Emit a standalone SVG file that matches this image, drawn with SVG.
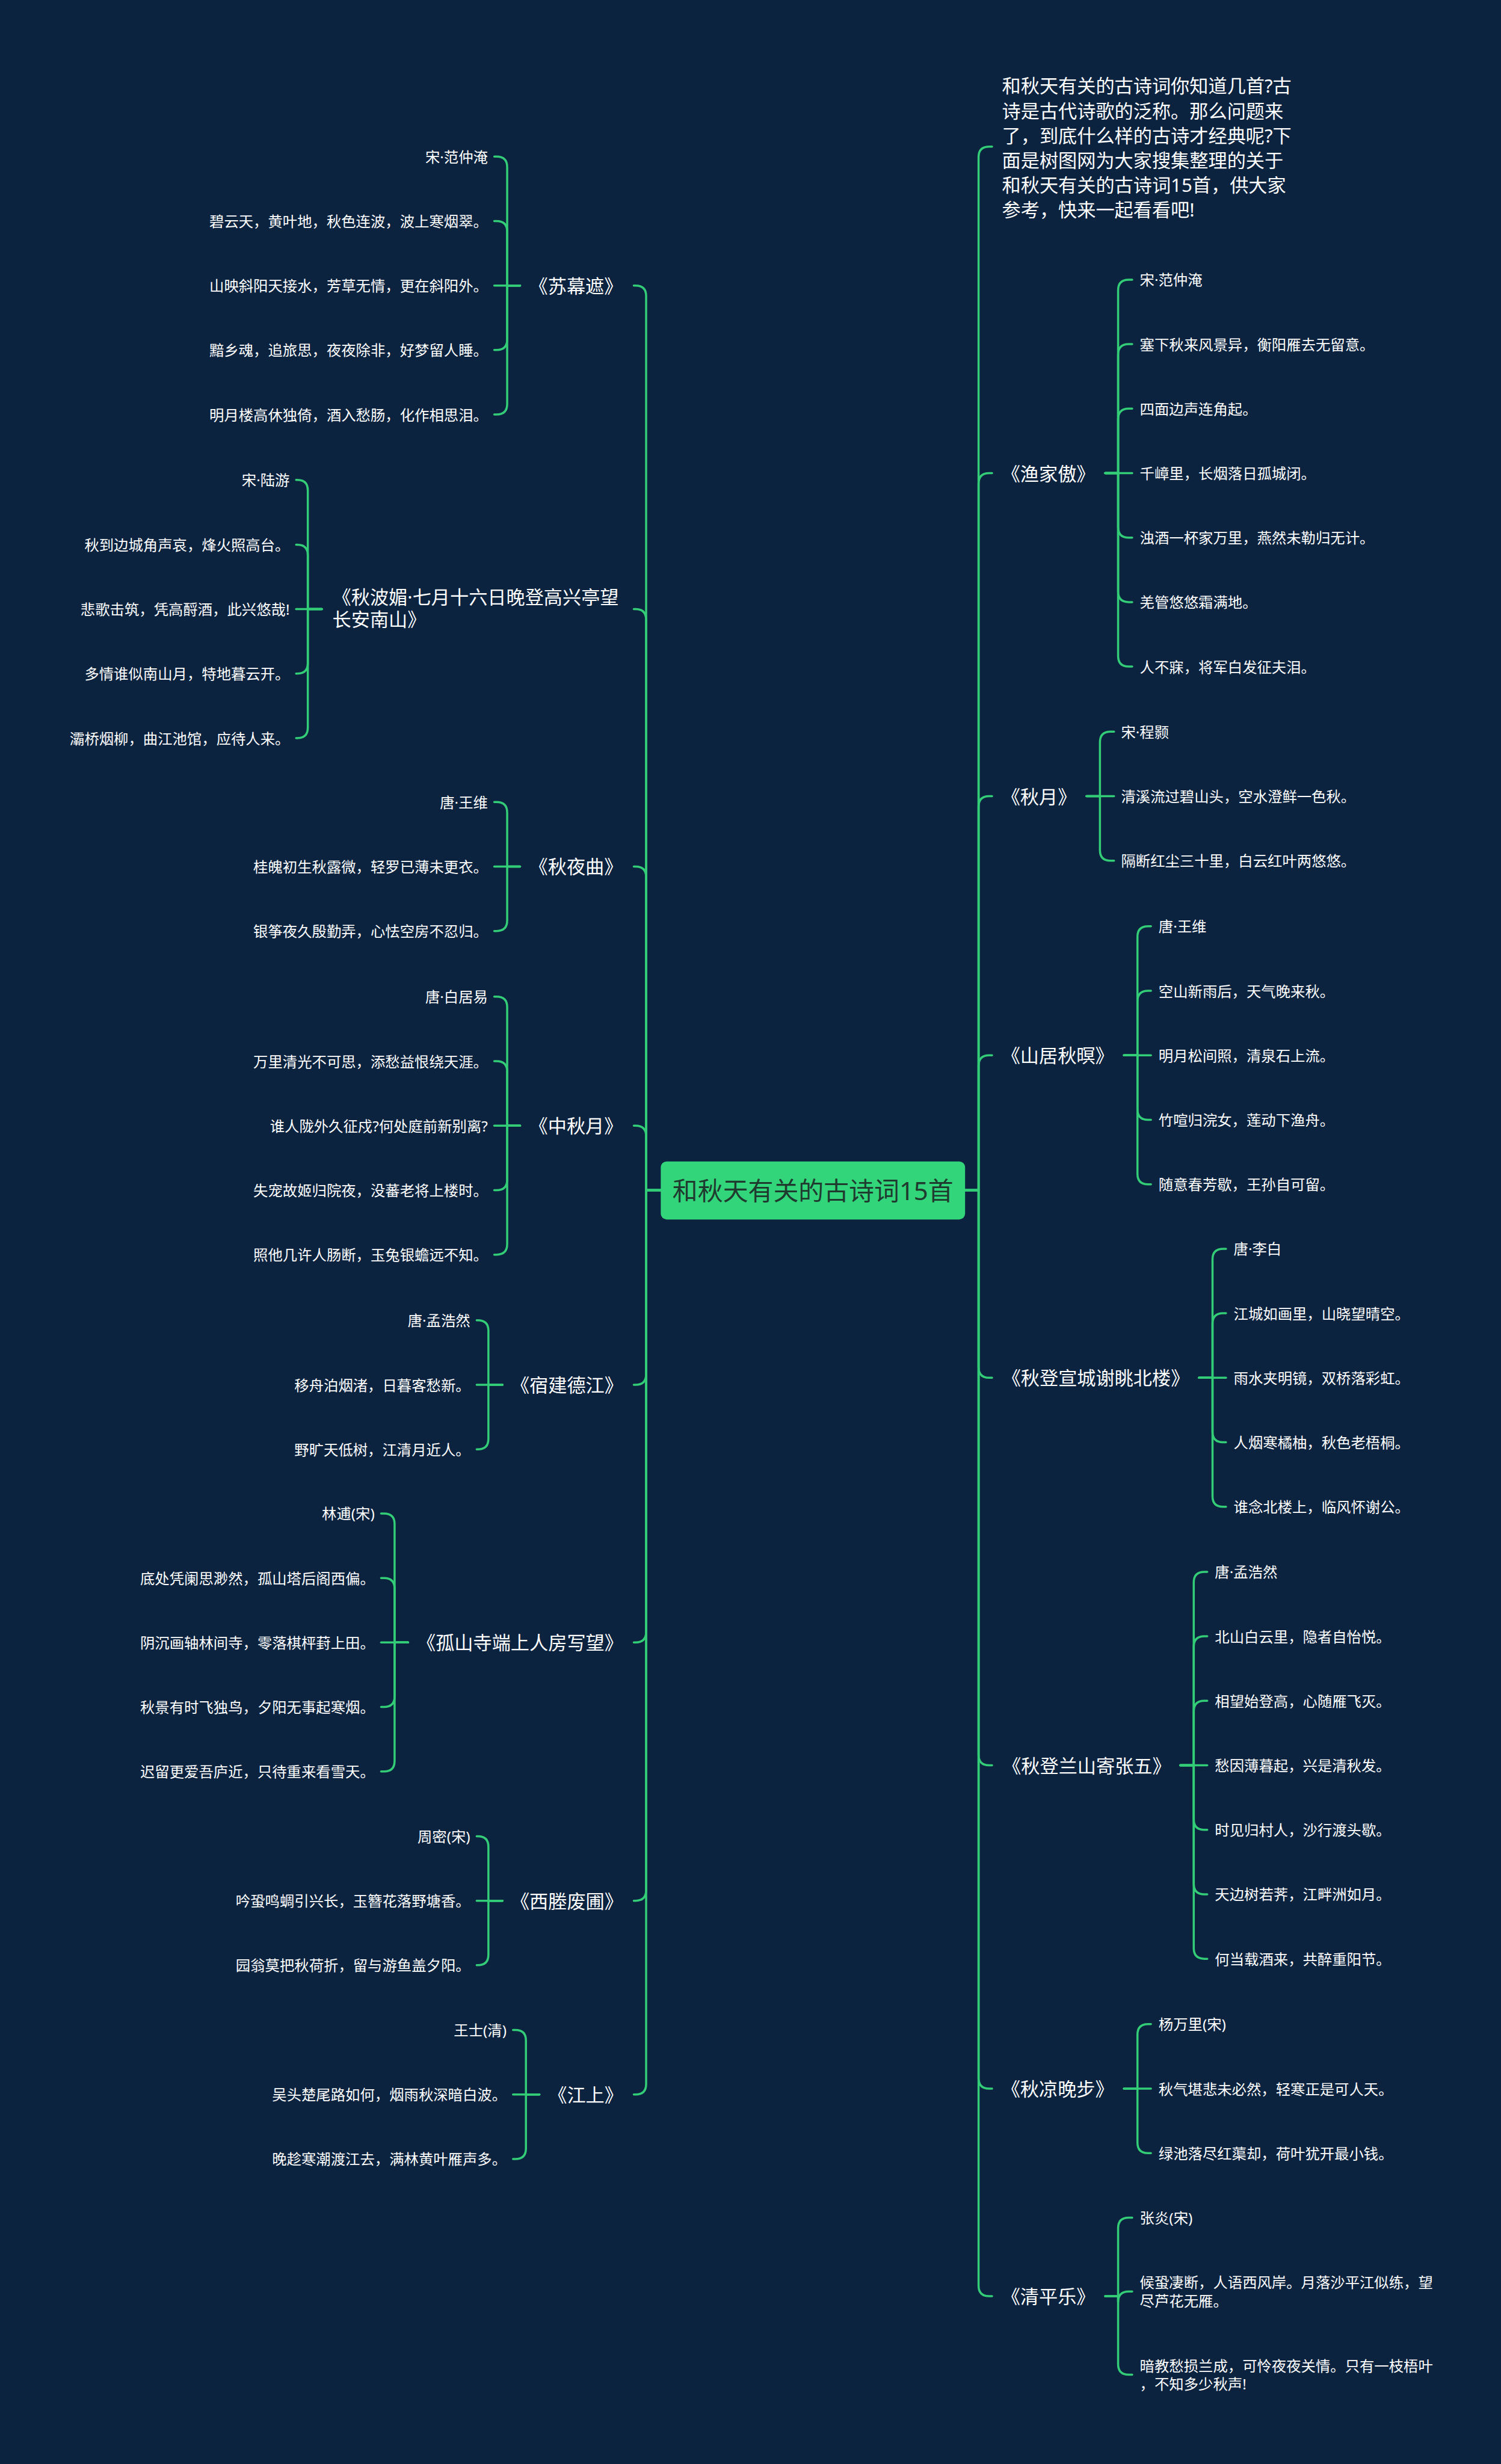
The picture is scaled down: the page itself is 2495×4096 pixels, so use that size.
<svg xmlns="http://www.w3.org/2000/svg" width="2495" height="4096" viewBox="0 0 2495 4096">
<style>
.bg{fill:#0c2340}
.ln{fill:none;stroke:#33cc77;stroke-width:3.6;stroke-linecap:round;stroke-linejoin:round}
text{font-family:"Noto Sans","Noto Sans CJK SC",sans-serif;dominant-baseline:central;fill:#ffffff}
.l{font-size:25px}
.le{font-size:25px;text-anchor:end}
.t{font-size:32px;text-anchor:middle}
.ts{font-size:32px}
.rootbox{fill:#33d57a}
.rt{font-size:43px;text-anchor:middle;fill:#1f3a2e}
</style>
<rect class="bg" x="0" y="0" width="2495" height="4096"/>
<g transform="scale(0.9746)">
<g id="connectors" class="ln">
<!-- left main -->
<path d="M1127 2030H1102V505Q1102 487 1084 487H1081"/>
<path d="M1127 2030H1102V1057Q1102 1039 1084 1039H1081"/>
<path d="M1127 2030H1102V1496Q1102 1478 1084 1478H1081"/>
<path d="M1127 2030H1102V1938Q1102 1920 1084 1920H1081"/>
<path d="M1127 2030H1102V2344Q1102 2362 1084 2362H1081"/>
<path d="M1127 2030H1102V2783.5Q1102 2801.5 1084 2801.5H1081"/>
<path d="M1127 2030H1102V3224Q1102 3242 1084 3242H1081"/>
<path d="M1127 2030H1102V3554.5Q1102 3572.5 1084 3572.5H1081"/>
<!-- right main -->
<path d="M1646 2030H1669V268Q1669 250 1687 250H1692"/>
<path d="M1646 2030H1669V825Q1669 807 1687 807H1692"/>
<path d="M1646 2030H1669V1376Q1669 1358 1687 1358H1692"/>
<path d="M1646 2030H1669V1818Q1669 1800 1687 1800H1692"/>
<path d="M1646 2030H1669V2332Q1669 2350 1687 2350H1692"/>
<path d="M1646 2030H1669V2993Q1669 3011 1687 3011H1692"/>
<path d="M1646 2030H1669V3544.5Q1669 3562.5 1687 3562.5H1692"/>
<path d="M1646 2030H1669V3898.5Q1669 3916.5 1687 3916.5H1692"/>
<!-- L1 苏幕遮 -->
<path d="M887 487H865V285Q865 267 847 267H843"/>
<path d="M887 487H865V395Q865 377 847 377H843"/>
<path d="M887 487H843"/>
<path d="M887 487H865V579Q865 597 847 597H843"/>
<path d="M887 487H865V689Q865 707 847 707H843"/>
<!-- L2 秋波媚 -->
<path d="M549 1039H525V836.5Q525 818.5 507 818.5H505"/>
<path d="M549 1039H525V947Q525 929 507 929H505"/>
<path d="M549 1039H505"/>
<path d="M549 1039H525V1131Q525 1149 507 1149H505"/>
<path d="M549 1039H525V1241Q525 1259 507 1259H505"/>
<!-- L3 秋夜曲 -->
<path d="M887 1478H865V1386Q865 1368 847 1368H843"/>
<path d="M887 1478H843"/>
<path d="M887 1478H865V1570Q865 1588 847 1588H843"/>
<!-- L4 中秋月 -->
<path d="M887 1920H865V1718Q865 1700 847 1700H843"/>
<path d="M887 1920H865V1828Q865 1810 847 1810H843"/>
<path d="M887 1920H843"/>
<path d="M887 1920H865V2012Q865 2030 847 2030H843"/>
<path d="M887 1920H865V2122Q865 2140 847 2140H843"/>
<!-- L5 宿建德江 -->
<path d="M857 2362H833V2270Q833 2252 815 2252H813"/>
<path d="M857 2362H813"/>
<path d="M857 2362H833V2454Q833 2472 815 2472H813"/>
<!-- L6 孤山寺 -->
<path d="M696 2801.5H673V2599.5Q673 2581.5 655 2581.5H650"/>
<path d="M696 2801.5H673V2709.5Q673 2691.5 655 2691.5H650"/>
<path d="M696 2801.5H650"/>
<path d="M696 2801.5H673V2893.5Q673 2911.5 655 2911.5H650"/>
<path d="M696 2801.5H673V3003.5Q673 3021.5 655 3021.5H650"/>
<!-- L7 西塍废圃 -->
<path d="M857 3242H833V3150Q833 3132 815 3132H813"/>
<path d="M857 3242H813"/>
<path d="M857 3242H833V3334Q833 3352 815 3352H813"/>
<!-- L8 江上 -->
<path d="M920 3572.5H897V3480.5Q897 3462.5 879 3462.5H875"/>
<path d="M920 3572.5H875"/>
<path d="M920 3572.5H897V3664.5Q897 3682.5 879 3682.5H875"/>
<!-- R1 渔家傲 -->
<path d="M1885 807H1907V495Q1907 477 1925 477H1931"/>
<path d="M1885 807H1907V605Q1907 587 1925 587H1931"/>
<path d="M1885 807H1907V715Q1907 697 1925 697H1931"/>
<path d="M1885 807H1931"/>
<path d="M1885 807H1907V899Q1907 917 1925 917H1931"/>
<path d="M1885 807H1907V1009Q1907 1027 1925 1027H1931"/>
<path d="M1885 807H1907V1119Q1907 1137 1925 1137H1931"/>
<!-- R2 秋月 -->
<path d="M1853 1358H1876V1266Q1876 1248 1894 1248H1900"/>
<path d="M1853 1358H1900"/>
<path d="M1853 1358H1876V1450Q1876 1468 1894 1468H1900"/>
<!-- R3 山居秋暝 -->
<path d="M1917 1800H1940V1598Q1940 1580 1958 1580H1963"/>
<path d="M1917 1800H1940V1708Q1940 1690 1958 1690H1963"/>
<path d="M1917 1800H1963"/>
<path d="M1917 1800H1940V1892Q1940 1910 1958 1910H1963"/>
<path d="M1917 1800H1940V2002Q1940 2020 1958 2020H1963"/>
<!-- R4 秋登宣城 -->
<path d="M2045 2350H2068V2148Q2068 2130 2086 2130H2091"/>
<path d="M2045 2350H2068V2258Q2068 2240 2086 2240H2091"/>
<path d="M2045 2350H2091"/>
<path d="M2045 2350H2068V2442Q2068 2460 2086 2460H2091"/>
<path d="M2045 2350H2068V2552Q2068 2570 2086 2570H2091"/>
<!-- R5 秋登兰山 -->
<path d="M2013 3011H2036V2699Q2036 2681 2054 2681H2059"/>
<path d="M2013 3011H2036V2809Q2036 2791 2054 2791H2059"/>
<path d="M2013 3011H2036V2919Q2036 2901 2054 2901H2059"/>
<path d="M2013 3011H2059"/>
<path d="M2013 3011H2036V3103Q2036 3121 2054 3121H2059"/>
<path d="M2013 3011H2036V3213Q2036 3231 2054 3231H2059"/>
<path d="M2013 3011H2036V3323Q2036 3341 2054 3341H2059"/>
<!-- R6 秋凉晚步 -->
<path d="M1917 3562.5H1940V3470.5Q1940 3452.5 1958 3452.5H1963"/>
<path d="M1917 3562.5H1963"/>
<path d="M1917 3562.5H1940V3654.5Q1940 3672.5 1958 3672.5H1963"/>
<!-- R7 清平乐 -->
<path d="M1885 3916.5H1907V3800.5Q1907 3782.5 1925 3782.5H1931"/>
<path d="M1885 3916.5H1907V3926.5Q1907 3908.5 1925 3908.5H1931"/>
<path d="M1885 3916.5H1907V4032.5Q1907 4050.5 1925 4050.5H1931"/>
</g>

<g id="root">
<rect class="rootbox" x="1127" y="1981" width="519" height="99" rx="10"/>
<text class="rt" x="1386.5" y="2030">和秋天有关的古诗词15首</text>
</g>

<g id="intro">
<text class="ts" x="1709" y="146">和秋天有关的古诗词你知道几首?古</text>
<text class="ts" x="1709" y="188.3">诗是古代诗歌的泛称。那么问题来</text>
<text class="ts" x="1709" y="230.6">了，到底什么样的古诗才经典呢?下</text>
<text class="ts" x="1709" y="272.9">面是树图网为大家搜集整理的关于</text>
<text class="ts" x="1709" y="315.2">和秋天有关的古诗词15首，供大家</text>
<text class="ts" x="1709" y="357.5">参考，快来一起看看吧!</text>
</g>

<g id="n-sumuzhe">
<text class="t" x="982.5" y="487">《苏幕遮》</text>
<text class="le" x="832" y="267">宋·范仲淹</text>
<text class="le" x="832" y="377">碧云天，黄叶地，秋色连波，波上寒烟翠。</text>
<text class="le" x="832" y="487">山映斜阳天接水，芳草无情，更在斜阳外。</text>
<text class="le" x="832" y="597">黯乡魂，追旅思，夜夜除非，好梦留人睡。</text>
<text class="le" x="832" y="707">明月楼高休独倚，酒入愁肠，化作相思泪。</text>
</g>

<g id="n-qiubomei">
<text class="ts" x="567" y="1018">《秋波媚·七月十六日晚登高兴亭望</text>
<text class="ts" x="567" y="1056">长安南山》</text>
<text class="le" x="494" y="818.5">宋·陆游</text>
<text class="le" x="494" y="929">秋到边城角声哀，烽火照高台。</text>
<text class="le" x="494" y="1039">悲歌击筑，凭高酹酒，此兴悠哉!</text>
<text class="le" x="494" y="1149">多情谁似南山月，特地暮云开。</text>
<text class="le" x="494" y="1259">灞桥烟柳，曲江池馆，应待人来。</text>
</g>

<g id="n-qiuyequ">
<text class="t" x="982.5" y="1478">《秋夜曲》</text>
<text class="le" x="832" y="1368">唐·王维</text>
<text class="le" x="832" y="1478">桂魄初生秋露微，轻罗已薄未更衣。</text>
<text class="le" x="832" y="1588">银筝夜久殷勤弄，心怯空房不忍归。</text>
</g>

<g id="n-zhongqiuyue">
<text class="t" x="982.5" y="1920">《中秋月》</text>
<text class="le" x="832" y="1700">唐·白居易</text>
<text class="le" x="832" y="1810">万里清光不可思，添愁益恨绕天涯。</text>
<text class="le" x="832" y="1920">谁人陇外久征戍?何处庭前新别离?</text>
<text class="le" x="832" y="2030">失宠故姬归院夜，没蕃老将上楼时。</text>
<text class="le" x="832" y="2140">照他几许人肠断，玉兔银蟾远不知。</text>
</g>

<g id="n-sujiandejiang">
<text class="t" x="967" y="2362">《宿建德江》</text>
<text class="le" x="802" y="2252">唐·孟浩然</text>
<text class="le" x="802" y="2362">移舟泊烟渚，日暮客愁新。</text>
<text class="le" x="802" y="2472">野旷天低树，江清月近人。</text>
</g>

<g id="n-gushansi">
<text class="t" x="887" y="2801.5">《孤山寺端上人房写望》</text>
<text class="le" x="639" y="2581.5">林逋(宋)</text>
<text class="le" x="639" y="2691.5">底处凭阑思渺然，孤山塔后阁西偏。</text>
<text class="le" x="639" y="2801.5">阴沉画轴林间寺，零落棋枰葑上田。</text>
<text class="le" x="639" y="2911.5">秋景有时飞独鸟，夕阳无事起寒烟。</text>
<text class="le" x="639" y="3021.5">迟留更爱吾庐近，只待重来看雪天。</text>
</g>

<g id="n-xichengfeipu">
<text class="t" x="967" y="3242">《西塍废圃》</text>
<text class="le" x="802" y="3132">周密(宋)</text>
<text class="le" x="802" y="3242">吟蛩鸣蜩引兴长，玉簪花落野塘香。</text>
<text class="le" x="802" y="3352">园翁莫把秋荷折，留与游鱼盖夕阳。</text>
</g>

<g id="n-jiangshang">
<text class="t" x="999" y="3572.5">《江上》</text>
<text class="le" x="864" y="3462.5">王士(清)</text>
<text class="le" x="864" y="3572.5">吴头楚尾路如何，烟雨秋深暗白波。</text>
<text class="le" x="864" y="3682.5">晚趁寒潮渡江去，满林黄叶雁声多。</text>
</g>

<g id="n-yujiaao">
<text class="t" x="1788" y="807">《渔家傲》</text>
<text class="l" x="1944" y="477">宋·范仲淹</text>
<text class="l" x="1944" y="587">塞下秋来风景异，衡阳雁去无留意。</text>
<text class="l" x="1944" y="697">四面边声连角起。</text>
<text class="l" x="1944" y="807">千嶂里，长烟落日孤城闭。</text>
<text class="l" x="1944" y="917">浊酒一杯家万里，燕然未勒归无计。</text>
<text class="l" x="1944" y="1027">羌管悠悠霜满地。</text>
<text class="l" x="1944" y="1137">人不寐，将军白发征夫泪。</text>
</g>

<g id="n-qiuyue">
<text class="t" x="1772" y="1358">《秋月》</text>
<text class="l" x="1912" y="1248">宋·程颢</text>
<text class="l" x="1912" y="1358">清溪流过碧山头，空水澄鲜一色秋。</text>
<text class="l" x="1912" y="1468">隔断红尘三十里，白云红叶两悠悠。</text>
</g>

<g id="n-shanjuqiuming">
<text class="t" x="1804" y="1800">《山居秋暝》</text>
<text class="l" x="1976" y="1580">唐·王维</text>
<text class="l" x="1976" y="1690">空山新雨后，天气晚来秋。</text>
<text class="l" x="1976" y="1800">明月松间照，清泉石上流。</text>
<text class="l" x="1976" y="1910">竹喧归浣女，莲动下渔舟。</text>
<text class="l" x="1976" y="2020">随意春芳歇，王孙自可留。</text>
</g>

<g id="n-xuancheng">
<text class="t" x="1869" y="2350">《秋登宣城谢眺北楼》</text>
<text class="l" x="2104" y="2130">唐·李白</text>
<text class="l" x="2104" y="2240">江城如画里，山晓望晴空。</text>
<text class="l" x="2104" y="2350">雨水夹明镜，双桥落彩虹。</text>
<text class="l" x="2104" y="2460">人烟寒橘柚，秋色老梧桐。</text>
<text class="l" x="2104" y="2570">谁念北楼上，临风怀谢公。</text>
</g>

<g id="n-lanshan">
<text class="t" x="1853.5" y="3011">《秋登兰山寄张五》</text>
<text class="l" x="2072" y="2681">唐·孟浩然</text>
<text class="l" x="2072" y="2791">北山白云里，隐者自怡悦。</text>
<text class="l" x="2072" y="2901">相望始登高，心随雁飞灭。</text>
<text class="l" x="2072" y="3011">愁因薄暮起，兴是清秋发。</text>
<text class="l" x="2072" y="3121">时见归村人，沙行渡头歇。</text>
<text class="l" x="2072" y="3231">天边树若荠，江畔洲如月。</text>
<text class="l" x="2072" y="3341">何当载酒来，共醉重阳节。</text>
</g>

<g id="n-qiuliang">
<text class="t" x="1804" y="3562.5">《秋凉晚步》</text>
<text class="l" x="1976" y="3452.5">杨万里(宋)</text>
<text class="l" x="1976" y="3562.5">秋气堪悲未必然，轻寒正是可人天。</text>
<text class="l" x="1976" y="3672.5">绿池落尽红蕖却，荷叶犹开最小钱。</text>
</g>

<g id="n-qingpingle">
<text class="t" x="1788" y="3916.5">《清平乐》</text>
<text class="l" x="1944" y="3782.5">张炎(宋)</text>
<text class="l" x="1944" y="3892.5">候蛩凄断，人语西风岸。月落沙平江似练，望</text>
<text class="l" x="1944" y="3924.5">尽芦花无雁。</text>
<text class="l" x="1944" y="4035">暗教愁损兰成，可怜夜夜关情。只有一枝梧叶</text>
<text class="l" x="1944" y="4066">，不知多少秋声!</text>
</g>
</g>
</svg>
